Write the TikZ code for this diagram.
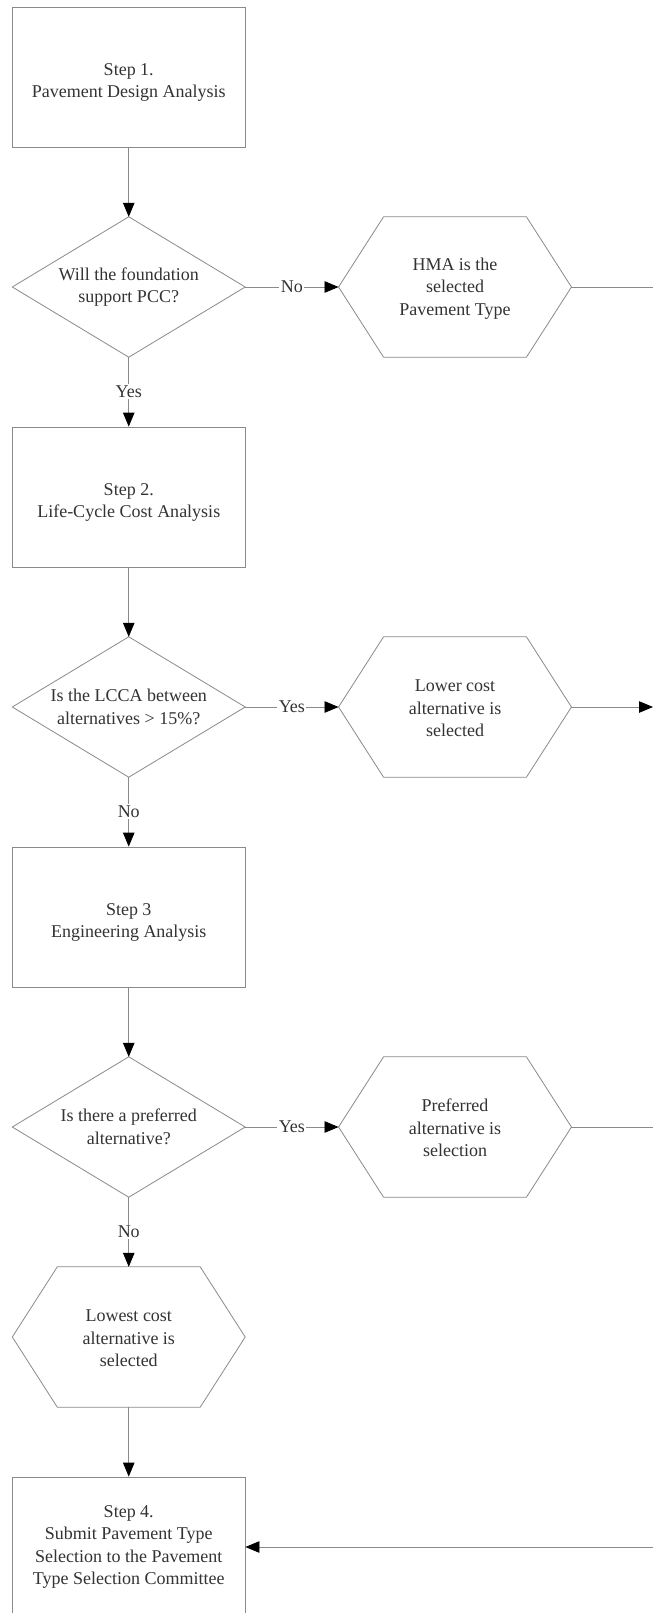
\documentclass[tikz,border=0pt]{standalone}
\usepackage{fontspec}
\setmainfont{Liberation Serif}
\usetikzlibrary{arrows.meta}
\definecolor{linegray}{HTML}{8A8A8A}
\definecolor{txt}{HTML}{333333}
\newcommand\drawhex[1]{\draw[conn] (#1.west) -- ([xshift=45pt]#1.north west) -- ([xshift=-45pt]#1.north east) -- (#1.east) -- ([xshift=-45pt]#1.south east) -- ([xshift=45pt]#1.south west) -- cycle;}
\newcommand\drawdiamond[1]{\draw[conn] (#1.west) -- (#1.north) -- (#1.east) -- (#1.south) -- cycle;}
\newcommand\topstrut{\rule{0pt}{23pt}}
\begin{document}
\begin{tikzpicture}[x=1pt,y=-1pt,
  base/.style={align=center, text=txt, font=\fontsize{18}{22.5}\selectfont, inner sep=0pt},
  conn/.style={draw=linegray, line width=0.8pt},
  stepbox/.style={base, draw=linegray, line width=0.8pt, minimum width=232.5pt, minimum height=140pt},
  shapebox/.style={base, minimum width=232.5pt, minimum height=140pt},
  arr/.style={conn, -{Triangle[length=14pt,width=11.5pt,color=black]}},
  lab/.style={base, fill=white, inner sep=1.5pt}]
\clip (0,0) rectangle (653,1613);
\fill[white] (0,0) rectangle (653,1613);

\node[stepbox] (b1) at (128.75,77) {\topstrut Step 1.\\Pavement Design Analysis};
\node[shapebox] (d1) at (128.75,287) {Will the foundation\\support PCC?};
\node[shapebox] (h1) at (455,287) {\rule{0pt}{15pt}HMA is the\\selected\\Pavement Type};
\node[stepbox] (b2) at (128.75,497) {\topstrut Step 2.\\Life-Cycle Cost Analysis};
\node[shapebox] (d2) at (128.75,707) {Is the LCCA between\\alternatives > 15\%?};
\node[shapebox] (h2) at (455,707) {\rule{0pt}{15pt}Lower cost\\alternative is\\selected};
\node[stepbox] (b3) at (128.75,917) {\topstrut Step 3\\Engineering Analysis};
\node[shapebox] (d3) at (128.75,1127) {Is there a preferred\\alternative?};
\node[shapebox] (h3) at (455,1127) {\rule{0pt}{15pt}Preferred\\alternative is\\selection};
\node[shapebox] (h4) at (128.75,1337) {\rule{0pt}{15pt}Lowest cost\\alternative is\\selected};
\node[stepbox] (b4) at (128.75,1547) {Step 4.\\Submit Pavement Type\\Selection to the Pavement\\Type Selection Committee};

\drawdiamond{d1}
\drawdiamond{d2}
\drawdiamond{d3}
\drawhex{h1}
\drawhex{h2}
\drawhex{h3}
\drawhex{h4}

\coordinate (r1) at (653,287);
\coordinate (r2) at (653,707);
\coordinate (r3) at (653,1127);
\coordinate (r4) at (653,1547);

\draw[arr] (b1.south) -- (d1.north);
\draw[arr] (d1.east) -- node[lab] {No} (h1.west);
\draw[conn] (h1.east) -- (r1);
\draw[arr] (d1.south) -- node[lab] {Yes} (b2.north);
\draw[arr] (b2.south) -- (d2.north);
\draw[arr] (d2.east) -- node[lab] {Yes} (h2.west);
\draw[arr] (h2.east) -- (r2);
\draw[arr] (d2.south) -- node[lab] {No} (b3.north);
\draw[arr] (b3.south) -- (d3.north);
\draw[arr] (d3.east) -- node[lab] {Yes} (h3.west);
\draw[conn] (h3.east) -- (r3);
\draw[arr] (d3.south) -- node[lab] {No} (h4.north);
\draw[arr] (h4.south) -- (b4.north);
\draw[arr] (r4) -- (b4.east |- r4);
\end{tikzpicture}
\end{document}
